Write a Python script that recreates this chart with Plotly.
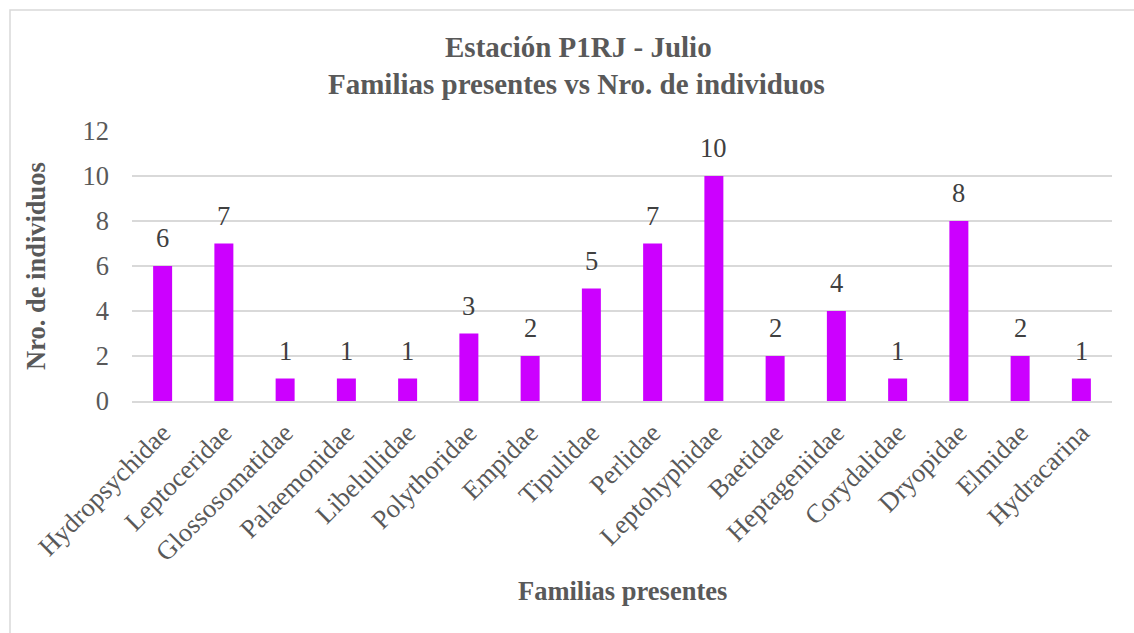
import plotly.graph_objects as go

familias = ["Hydropsychidae", "Leptoceridae", "Glossosomatidae", "Palaemonidae",
            "Libelullidae", "Polythoridae", "Empidae", "Tipulidae", "Perlidae",
            "Leptohyphidae", "Baetidae", "Heptageniidae", "Corydalidae",
            "Dryopidae", "Elmidae", "Hydracarina"]
individuos = [6, 7, 1, 1, 1, 3, 2, 5, 7, 10, 2, 4, 1, 8, 2, 1]
y_ticks = [0, 2, 4, 6, 8, 10, 12]

W, H = 1134, 633
ML, MR, MT, MB = 132, 22, 131, 232
FONT = "Liberation Serif, Times New Roman, serif"
GRAY = "#595959"
FS = 26.5

fig = go.Figure(go.Bar(
    x=familias, y=individuos,
    marker=dict(color="#CC00FF", line=dict(width=0)),
    hoverinfo="x+y",
))

pw, ph = W - ML - MR, H - MT - MB
def px_x(x):
    return (x - ML) / pw
def px_y(y):
    return (H - MB - y) / ph

# value labels above each bar
labels = [dict(x=f, y=v, text=str(v), xref="x", yref="y",
               xanchor="center", yanchor="bottom", yshift=11, showarrow=False,
               font=dict(family=FONT, size=FS, color="#404040"))
          for f, v in zip(familias, individuos)]

fig.update_layout(
    width=W, height=H,
    margin=dict(l=ML, r=MR, t=MT, b=MB),
    paper_bgcolor="white", plot_bgcolor="white",
    bargap=0.69,
    showlegend=False,
    font=dict(family=FONT, color=GRAY),
    shapes=[dict(type="rect", xref="paper", yref="paper",
                 x0=px_x(10), x1=px_x(1150), y0=px_y(650), y1=px_y(10),
                 line=dict(color="#D9D9D9", width=1.5), fillcolor="rgba(0,0,0,0)",
                 layer="below")],
    annotations=labels + [
        dict(text="<b>Estación P1RJ - Julio</b>", xref="paper", yref="paper",
             x=px_x(578), y=px_y(47), xanchor="center", yanchor="middle",
             showarrow=False, font=dict(family=FONT, size=29, color=GRAY)),
        dict(text="<b>Familias presentes vs Nro. de individuos</b>", xref="paper", yref="paper",
             x=px_x(576), y=px_y(84), xanchor="center", yanchor="middle",
             showarrow=False, font=dict(family=FONT, size=29, color=GRAY)),
        dict(text="<b>Familias presentes</b>", xref="paper", yref="paper",
             x=px_x(622), y=px_y(591), xanchor="center", yanchor="middle",
             showarrow=False, font=dict(family=FONT, size=FS, color=GRAY)),
        dict(text="<b>Nro. de individuos</b>", xref="paper", yref="paper",
             x=px_x(36), y=px_y(266), xanchor="center", yanchor="middle",
             textangle=-90, showarrow=False, font=dict(family=FONT, size=FS, color=GRAY)),
    ],
)

fig.update_xaxes(
    tickangle=-45, tickfont=dict(family=FONT, size=FS, color=GRAY),
    showgrid=False, showline=True, linecolor="#D9D9D9", linewidth=1.5,
    ticks="", ticklen=0, ticklabelstandoff=4,
)
fig.update_yaxes(
    range=[0, 12], tickvals=y_ticks, ticktext=[str(t) for t in y_ticks],
    tickfont=dict(family=FONT, size=FS, color=GRAY),
    showgrid=True, gridcolor="#D9D9D9", gridwidth=1.5,
    zeroline=False, showline=False, ticks="", ticklabelstandoff=22,
)

fig.write_html("out.html")
